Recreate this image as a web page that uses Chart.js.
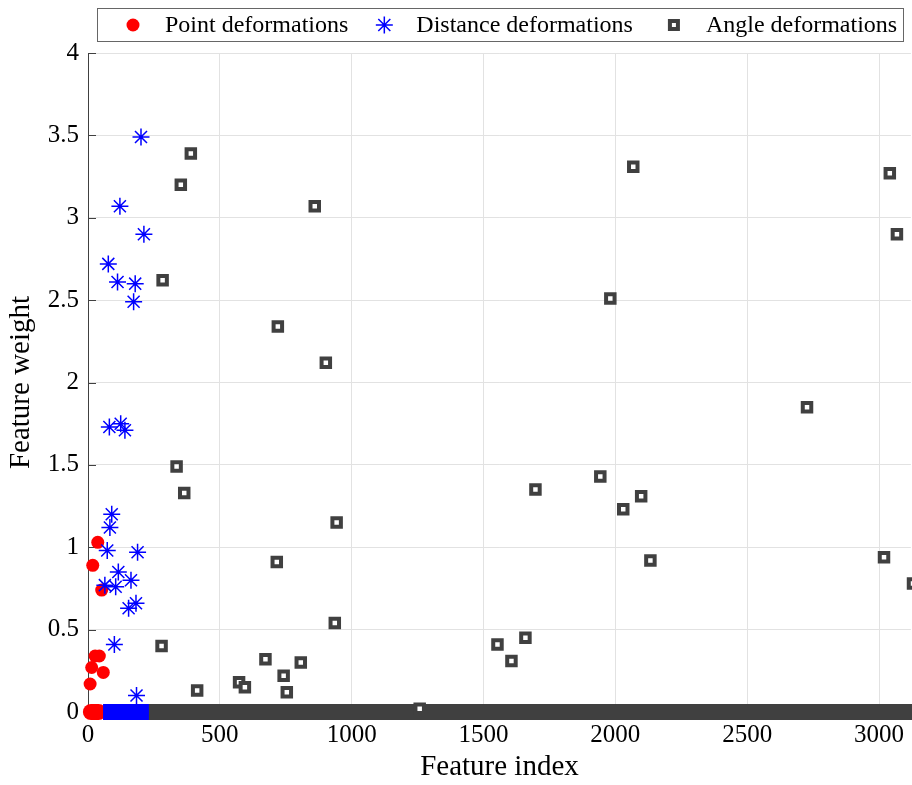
<!DOCTYPE html>
<html>
<head>
<meta charset="utf-8">
<title>Feature weights</title>
<script src="https://cdn.jsdelivr.net/npm/chart.js@4.4.1/dist/chart.umd.min.js"></script>
<style>
  html, body { margin: 0; padding: 0; background: #fff; }
  canvas { display: block; }
</style>
</head>
<body>
<canvas id="weightChart" width="912" height="785"></canvas>
<script>
// feature index / weight pairs per deformation group
const pointIdx = [37, 18, 52, 27, 43, 14, 58, 8];
const pointW = [1.03, 0.89, 0.74, 0.34, 0.34, 0.27, 0.24, 0.17];

const distIdx = [201, 121, 212, 77, 112, 179, 173, 81, 124, 140, 90, 83, 73, 188, 115, 163, 64, 105, 154, 182, 100, 184];
const distW = [3.49, 3.07, 2.90, 2.72, 2.61, 2.60, 2.49, 1.73, 1.75, 1.71, 1.20, 1.12, 0.98, 0.97, 0.85, 0.80, 0.77, 0.76, 0.63, 0.66, 0.41, 0.10];

const angleIdx = [390, 352, 860, 283, 720, 902, 336, 365, 943, 716, 936, 279, 414, 573, 595, 673, 742, 754, 807, 1258,
  1553, 1606, 1659, 1697, 1943, 2030, 2098, 2133, 1981, 2068, 2727, 3041, 3068, 3019, 3129];
const angleW = [3.39, 3.20, 3.07, 2.62, 2.34, 2.12, 1.49, 1.33, 1.15, 0.91, 0.54, 0.40, 0.13, 0.18, 0.15, 0.32, 0.22, 0.12, 0.30, 0.02,
  0.41, 0.31, 0.45, 1.35, 1.43, 1.23, 1.31, 0.92, 2.51, 3.31, 1.85, 3.27, 2.90, 0.94, 0.78];

// index ranges of features whose weight is zero
const pointZero = [11, 40];
const distZero = [57, 231];
const angleZero = [208, 3200];

const xTicks = [0, 500, 1000, 1500, 2000, 2500, 3000];
const yTicks = [0, 0.5, 1, 1.5, 2, 2.5, 3, 3.5, 4];

const SERIF = '"Liberation Serif", "Times New Roman", serif';
const RED = '#ff0000', BLUE = '#0000ff', DARK = '#404040';

const toPts = (xs, ys) => xs.map((x, i) => ({ x, y: ys[i] }));
const zeroPts = r => r.map(x => ({ x, y: 0 }));

function markerPath(ctx, style, x, y) {
  if (style === 'circle') {
    ctx.fillStyle = RED;
    ctx.beginPath(); ctx.arc(x, y, 6.5, 0, Math.PI * 2); ctx.fill();
  } else if (style === 'star') {
    ctx.strokeStyle = BLUE; ctx.lineWidth = 1.5;
    ctx.beginPath();
    const r = 8.5, d = r * Math.SQRT1_2;
    ctx.moveTo(x - r, y); ctx.lineTo(x + r, y);
    ctx.moveTo(x, y - r); ctx.lineTo(x, y + r);
    ctx.moveTo(x - d, y - d); ctx.lineTo(x + d, y + d);
    ctx.moveTo(x - d, y + d); ctx.lineTo(x + d, y - d);
    ctx.stroke();
  } else {
    ctx.fillStyle = '#fff'; ctx.strokeStyle = DARK; ctx.lineWidth = 4;
    ctx.fillRect(x - 4, y - 4, 8, 8);
    ctx.strokeRect(x - 4, y - 4, 8, 8);
  }
}

// boxed legend across the top
const boxLegend = {
  id: 'boxLegend',
  afterDraw(chart) {
    const ctx = chart.ctx;
    const items = [
      ['circle', 'Point deformations'],
      ['star', 'Distance deformations'],
      ['rect', 'Angle deformations']
    ];
    ctx.save();
    ctx.font = '24px ' + SERIF;
    ctx.textBaseline = 'middle';
    const cy = 25;
    let x = 133;
    items.forEach(([style, text], i) => {
      markerPath(ctx, style, x, cy);
      ctx.fillStyle = '#000';
      ctx.fillText(text, x + 32, cy + 1);
      x = x + 32 + ctx.measureText(text).width + (i === 0 ? 36 : 41);
    });
    ctx.strokeStyle = '#666';
    ctx.lineWidth = 1;
    ctx.strokeRect(97.5, 8.5, 806, 33);
    ctx.restore();
  }
};

// short tick marks pointing into the plot
const innerTicks = {
  id: 'innerTicks',
  beforeDatasetsDraw(chart) {
    const { ctx, chartArea, scales } = chart;
    ctx.save();
    ctx.strokeStyle = DARK;
    ctx.lineWidth = 1;
    ctx.beginPath();
    yTicks.forEach(v => {
      const py = Math.round(scales.y.getPixelForValue(v)) + 0.5;
      ctx.moveTo(chartArea.left, py); ctx.lineTo(chartArea.left + 8, py);
    });
    xTicks.forEach(v => {
      const px = Math.round(scales.x.getPixelForValue(v)) + 0.5;
      ctx.moveTo(px, chartArea.bottom); ctx.lineTo(px, chartArea.bottom - 8);
    });
    ctx.stroke();
    ctx.restore();
  }
};

new Chart(document.getElementById('weightChart'), {
  type: 'scatter',
  data: {
    datasets: [
      {
        label: 'Distance deformations',
        data: toPts(distIdx, distW),
        pointStyle: 'star', pointRadius: 8.5,
        borderColor: BLUE, backgroundColor: BLUE, borderWidth: 1.5, clip: false
      },
      {
        data: zeroPts(distZero), showLine: true, pointRadius: 0,
        borderColor: BLUE, borderWidth: 16, borderCapStyle: 'butt', clip: false
      },
      {
        label: 'Point deformations',
        data: toPts(pointIdx, pointW),
        pointStyle: 'circle', pointRadius: 6.5,
        backgroundColor: RED, borderColor: RED, borderWidth: 0, clip: false
      },
      {
        data: zeroPts(pointZero), showLine: true, pointRadius: 0,
        borderColor: RED, borderWidth: 16, borderCapStyle: 'round', clip: false
      },
      {
        label: 'Angle deformations',
        data: toPts(angleIdx, angleW),
        pointStyle: 'rect', pointRadius: 6,
        backgroundColor: '#fff', borderColor: DARK, borderWidth: 4, clip: false
      },
      {
        data: zeroPts(angleZero), showLine: true, pointRadius: 0,
        borderColor: DARK, borderWidth: 16, borderCapStyle: 'butt', clip: false
      }
    ]
  },
  options: {
    responsive: false,
    animation: false,
    layout: { autoPadding: false, padding: { top: 53, right: 0, left: 0, bottom: 0 } },
    plugins: { legend: { display: false }, tooltip: { enabled: false } },
    scales: {
      x: {
        type: 'linear', min: 0, max: 3121,
        afterFit: s => { s.height = 73; },
        afterBuildTicks: s => { s.ticks = xTicks.map(v => ({ value: v })); },
        ticks: {
          font: { family: SERIF, size: 25 }, color: '#000', padding: 8,
          includeBounds: false, maxRotation: 0, callback: v => String(v)
        },
        grid: { color: '#e2e2e2', drawTicks: false },
        border: { color: DARK },
        title: { display: true, text: 'Feature index', font: { family: SERIF, size: 29 }, color: '#000', padding: 0 }
      },
      y: {
        min: 0, max: 4,
        afterFit: s => { s.width = 88; },
        afterBuildTicks: s => { s.ticks = yTicks.map(v => ({ value: v })); },
        ticks: { font: { family: SERIF, size: 25 }, color: '#000', padding: 9, callback: v => String(v) },
        grid: { color: '#e2e2e2', drawTicks: false },
        border: { color: DARK },
        title: { display: true, text: 'Feature weight', font: { family: SERIF, size: 29 }, color: '#000', padding: 4 }
      }
    }
  },
  plugins: [innerTicks, boxLegend]
});
</script>
</body>
</html>
